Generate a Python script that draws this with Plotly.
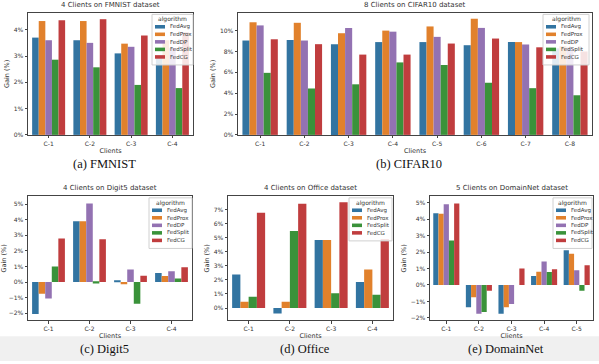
import plotly.graph_objects as go

W, H = 599, 364

algorithms = ["FedAvg", "FedProx", "FedDP", "FedSplit", "FedCG"]
colors = {"FedAvg": "#3274a1", "FedProx": "#e1812c", "FedDP": "#9372b2",
          "FedSplit": "#3a923a", "FedCG": "#c03d3e"}

# ---- data (gain in %) ----
fmnist_clients = ["C-1", "C-2", "C-3", "C-4"]
fmnist = {
    "FedAvg":   [3.70, 3.60, 3.10, 3.00],
    "FedProx":  [4.33, 4.33, 3.47, 3.60],
    "FedDP":    [3.60, 3.50, 3.35, 3.30],
    "FedSplit": [2.86, 2.57, 1.90, 1.78],
    "FedCG":    [4.36, 4.40, 3.78, 3.90],
}

cifar_clients = ["C-1", "C-2", "C-3", "C-4", "C-5", "C-6", "C-7", "C-8"]
cifar = {
    "FedAvg":   [9.05, 9.10, 8.70, 8.90, 8.90, 8.60, 8.90, 8.30],
    "FedProx":  [10.80, 10.75, 9.75, 10.00, 10.40, 11.14, 8.90, 8.50],
    "FedDP":    [10.50, 9.05, 10.25, 9.90, 9.40, 10.26, 8.67, 8.40],
    "FedSplit": [5.95, 4.45, 4.85, 6.95, 6.70, 5.00, 4.48, 3.80],
    "FedCG":    [9.17, 8.70, 7.70, 7.70, 8.76, 9.24, 8.40, 8.00],
}

digit5_clients = ["C-1", "C-2", "C-3", "C-4"]
digit5 = {
    "FedAvg":   [-2.05, 3.90, 0.12, 0.58],
    "FedProx":  [-0.75, 3.90, -0.15, 0.38],
    "FedDP":    [-1.05, 5.05, 0.80, 0.70],
    "FedSplit": [1.00, -0.10, -1.40, 0.22],
    "FedCG":    [2.80, 2.75, 0.40, 0.95],
}

office_clients = ["C-1", "C-2", "C-3", "C-4"]
office = {
    "FedAvg":   [2.40, -0.40, 4.85, 1.85],
    "FedProx":  [0.45, 0.45, 4.85, 2.75],
    "FedSplit": [0.80, 5.50, 1.05, 0.95],
    "FedCG":    [6.80, 7.45, 7.55, 4.92],
}

domainnet_clients = ["C-1", "C-2", "C-3", "C-4", "C-5"]
domainnet = {
    "FedAvg":   [4.35, -1.35, -1.75, 0.55, 2.10],
    "FedProx":  [4.33, -0.75, -1.35, 0.80, 1.90],
    "FedDP":    [4.90, -1.75, -1.15, 1.42, 0.90],
    "FedSplit": [2.70, -1.65, 0.00, 0.78, -0.35],
    "FedCG":    [4.95, -0.35, 1.00, 0.95, 1.20],
}

panels = [
    dict(title="4 Clients on FMNIST dataset", caption="(a) FMNIST",
         clients=fmnist_clients, data=fmnist,
         box=(28, 193, 13, 136), yrange=[0, 4.64], ticks=[0, 1, 2, 3, 4], leg=(152, 193)),
    dict(title="8 Clients on CIFAR10 dataset", caption="(b) CIFAR10",
         clients=cifar_clients, data=cifar,
         box=(238, 592, 13, 136), yrange=[0, 11.7], ticks=[0, 2, 4, 6, 8, 10], leg=(543, 589)),
    dict(title="4 Clients on Digit5 dataset", caption="(c) Digit5",
         clients=digit5_clients, data=digit5,
         box=(28, 192, 198, 323), yrange=[-2.46, 5.5], ticks=list(range(-2, 6)), leg=(149, 192)),
    dict(title="4 Clients on Office dataset", caption="(d) Office",
         clients=office_clients, data=office,
         box=(228, 393, 198, 323), yrange=[-0.88, 7.97], ticks=list(range(0, 8)), leg=(349, 392)),
    dict(title="5 Clients on DomainNet dataset", caption="(e) DomainNet",
         clients=domainnet_clients, data=domainnet,
         box=(430, 593, 198, 323), yrange=[-2.15, 5.38], ticks=list(range(-2, 6)), leg=(553, 592)),
]


def px(x):
    return x / W


def py(y):
    return 1 - y / H


def pct(v):
    return (f"\u2212{-v}%" if v < 0 else f"{v}%")


fig = go.Figure()
layout = dict(
    width=W, height=H, margin=dict(l=0, r=0, t=0, b=0),
    paper_bgcolor="white", plot_bgcolor="white",
    barmode="group", bargap=0.2, bargroupgap=0,
    showlegend=False, font=dict(family="DejaVu Sans", color="#333"),
)
shapes = []
annotations = []

# light gray band at the bottom of the page
shapes.append(dict(type="rect", xref="paper", yref="paper", x0=0, x1=1,
                   y0=0, y1=py(339), fillcolor="#f0f0f0", line=dict(width=0), layer="below"))

tick_font = dict(family="DejaVu Sans", size=6, color="#333")
for i, p in enumerate(panels, start=1):
    xa = "x" if i == 1 else f"x{i}"
    ya = "y" if i == 1 else f"y{i}"
    l, r, t, b = p["box"]
    for algo, vals in p["data"].items():
        fig.add_trace(go.Bar(x=p["clients"], y=vals, name=algo, marker_color=colors[algo],
                             marker_line_width=0, xaxis=xa, yaxis=ya, showlegend=False))
    layout["xaxis" if i == 1 else f"xaxis{i}"] = dict(
        domain=[px(l), px(r)], anchor=ya, showline=True, mirror=True, linecolor="#444",
        linewidth=1, ticks="outside", ticklen=2.5, tickcolor="#444", tickfont=tick_font,
        showgrid=False, zeroline=False,
        title=dict(text="Clients", font=dict(size=6.5, color="#333"), standoff=2))
    layout["yaxis" if i == 1 else f"yaxis{i}"] = dict(
        domain=[py(b), py(t)], anchor=xa, range=p["yrange"], tickmode="array",
        tickvals=p["ticks"], ticktext=[pct(v) for v in p["ticks"]],
        showline=True, mirror=True, linecolor="#444", linewidth=1,
        ticks="outside", ticklen=2.5, tickcolor="#444", tickfont=tick_font,
        showgrid=False, zeroline=False,
        title=dict(text="Gain (%)", font=dict(size=6.5, color="#333"), standoff=3))
    # panel title
    annotations.append(dict(text=p["title"], xref="paper", yref="paper",
                            x=px((l + r) / 2), y=py(t - 2), xanchor="center", yanchor="bottom",
                            showarrow=False, font=dict(size=7, color="#333")))
    # caption
    cap_y = 165 if t < 100 else 352
    annotations.append(dict(text=p["caption"], xref="paper", yref="paper",
                            x=px((l + r) / 2 - 6), y=py(cap_y), xanchor="center", yanchor="middle",
                            showarrow=False,
                            font=dict(family="Liberation Serif", size=12.5, color="#111")))
    # legend (seaborn style)
    ll, lr = p["leg"]
    lt = t + 1.5
    algos = list(p["data"].keys())
    lb = lt + 13 + 7.6 * len(algos)
    shapes.append(dict(type="rect", xref="paper", yref="paper", x0=px(ll), x1=px(lr),
                       y0=py(lb), y1=py(lt), fillcolor="rgba(255,255,255,0.85)",
                       line=dict(color="#d0d0d0", width=1), layer="above"))
    annotations.append(dict(text="algorithm", xref="paper", yref="paper",
                            x=px((ll + lr) / 2), y=py(lt + 5), xanchor="center", yanchor="middle",
                            showarrow=False, font=dict(size=6, color="#333")))
    for k, algo in enumerate(algos):
        yy = lt + 12.5 + 7.6 * k
        shapes.append(dict(type="rect", xref="paper", yref="paper", x0=px(ll + 3), x1=px(ll + 13),
                           y0=py(yy + 1.8), y1=py(yy - 1.8), fillcolor=colors[algo],
                           line=dict(width=0), layer="above"))
        annotations.append(dict(text=algo, xref="paper", yref="paper",
                                x=px(ll + 16), y=py(yy), xanchor="left", yanchor="middle",
                                showarrow=False, font=dict(size=5.5, color="#333")))

layout["shapes"] = shapes
layout["annotations"] = annotations
fig.update_layout(**layout)
fig.write_html("out.html", config={"displayModeBar": False},
               post_script="document.body.style.margin='0';")
